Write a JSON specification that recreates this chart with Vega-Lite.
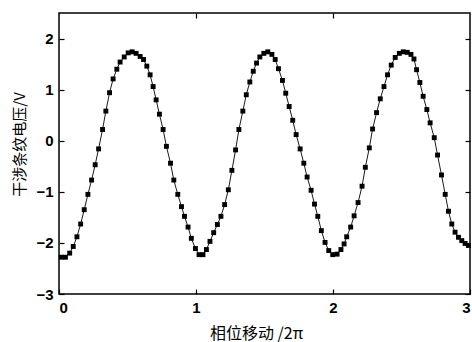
{
  "$schema": "https://vega.github.io/schema/vega-lite/v6.json",
  "width": 411,
  "height": 281,
  "autosize": {"type": "none"},
  "padding": {"left": 59, "top": 13, "right": 2, "bottom": 48},
  "background": "white",
  "config": {
    "view": {"stroke": "black", "strokeWidth": 1.5},
    "axis": {
      "domain": false,
      "grid": false,
      "tickColor": "black",
      "tickWidth": 1.2,
      "labelColor": "black",
      "labelFont": "Liberation Sans",
      "labelFontWeight": "bold",
      "labelFontSize": 15,
      "titleColor": "black",
      "titleFontWeight": "normal"
    }
  },
  "data": {
    "values": [
      {"x": 0.017, "y": -2.28}, {"x": 0.047, "y": -2.28}, {"x": 0.078, "y": -2.20}, {"x": 0.104, "y": -2.07},
      {"x": 0.131, "y": -1.88}, {"x": 0.158, "y": -1.63}, {"x": 0.184, "y": -1.35}, {"x": 0.211, "y": -1.05},
      {"x": 0.238, "y": -0.77}, {"x": 0.264, "y": -0.47}, {"x": 0.289, "y": -0.16}, {"x": 0.318, "y": 0.22},
      {"x": 0.342, "y": 0.58}, {"x": 0.369, "y": 0.94}, {"x": 0.395, "y": 1.21}, {"x": 0.422, "y": 1.40},
      {"x": 0.446, "y": 1.54}, {"x": 0.476, "y": 1.64}, {"x": 0.505, "y": 1.72}, {"x": 0.534, "y": 1.74},
      {"x": 0.563, "y": 1.71}, {"x": 0.592, "y": 1.65}, {"x": 0.617, "y": 1.59}, {"x": 0.641, "y": 1.46},
      {"x": 0.665, "y": 1.29}, {"x": 0.687, "y": 1.06}, {"x": 0.709, "y": 0.80}, {"x": 0.733, "y": 0.52},
      {"x": 0.760, "y": 0.22}, {"x": 0.784, "y": -0.11}, {"x": 0.814, "y": -0.44}, {"x": 0.838, "y": -0.77},
      {"x": 0.867, "y": -1.05}, {"x": 0.894, "y": -1.29}, {"x": 0.916, "y": -1.48}, {"x": 0.942, "y": -1.69},
      {"x": 0.966, "y": -1.91}, {"x": 0.996, "y": -2.11}, {"x": 1.022, "y": -2.23}, {"x": 1.051, "y": -2.23},
      {"x": 1.076, "y": -2.13}, {"x": 1.102, "y": -1.97}, {"x": 1.129, "y": -1.80}, {"x": 1.156, "y": -1.64},
      {"x": 1.182, "y": -1.48}, {"x": 1.209, "y": -1.25}, {"x": 1.236, "y": -0.96}, {"x": 1.262, "y": -0.58},
      {"x": 1.289, "y": -0.18}, {"x": 1.313, "y": 0.22}, {"x": 1.342, "y": 0.58}, {"x": 1.367, "y": 0.90},
      {"x": 1.393, "y": 1.15}, {"x": 1.418, "y": 1.36}, {"x": 1.442, "y": 1.52}, {"x": 1.466, "y": 1.64},
      {"x": 1.495, "y": 1.71}, {"x": 1.524, "y": 1.74}, {"x": 1.554, "y": 1.69}, {"x": 1.578, "y": 1.59},
      {"x": 1.602, "y": 1.41}, {"x": 1.631, "y": 1.18}, {"x": 1.655, "y": 0.93}, {"x": 1.680, "y": 0.67},
      {"x": 1.706, "y": 0.40}, {"x": 1.731, "y": 0.12}, {"x": 1.760, "y": -0.16}, {"x": 1.787, "y": -0.44},
      {"x": 1.811, "y": -0.71}, {"x": 1.840, "y": -0.97}, {"x": 1.865, "y": -1.24}, {"x": 1.889, "y": -1.48},
      {"x": 1.915, "y": -1.76}, {"x": 1.942, "y": -1.99}, {"x": 1.969, "y": -2.15}, {"x": 1.998, "y": -2.23},
      {"x": 2.030, "y": -2.22}, {"x": 2.058, "y": -2.13}, {"x": 2.081, "y": -2.02}, {"x": 2.100, "y": -1.88},
      {"x": 2.129, "y": -1.69}, {"x": 2.154, "y": -1.47}, {"x": 2.183, "y": -1.21}, {"x": 2.212, "y": -0.89},
      {"x": 2.236, "y": -0.52}, {"x": 2.265, "y": -0.14}, {"x": 2.289, "y": 0.23}, {"x": 2.318, "y": 0.55},
      {"x": 2.345, "y": 0.82}, {"x": 2.372, "y": 1.06}, {"x": 2.398, "y": 1.29}, {"x": 2.425, "y": 1.48},
      {"x": 2.454, "y": 1.63}, {"x": 2.484, "y": 1.71}, {"x": 2.513, "y": 1.74}, {"x": 2.542, "y": 1.73},
      {"x": 2.569, "y": 1.69}, {"x": 2.591, "y": 1.60}, {"x": 2.610, "y": 1.39}, {"x": 2.634, "y": 1.14},
      {"x": 2.658, "y": 0.87}, {"x": 2.685, "y": 0.61}, {"x": 2.709, "y": 0.35}, {"x": 2.739, "y": 0.06},
      {"x": 2.763, "y": -0.28}, {"x": 2.792, "y": -0.67}, {"x": 2.819, "y": -1.05}, {"x": 2.843, "y": -1.38},
      {"x": 2.867, "y": -1.63}, {"x": 2.891, "y": -1.79}, {"x": 2.916, "y": -1.89}, {"x": 2.940, "y": -1.955},
      {"x": 2.964, "y": -2.01}, {"x": 2.988, "y": -2.05}
    ]
  },
  "layer": [
    {
      "mark": {"type": "line", "color": "black", "strokeWidth": 0.9},
      "encoding": {
        "x": {
          "field": "x", "type": "quantitative",
          "scale": {"domain": [0, 3], "nice": false, "zero": false},
          "axis": {
            "orient": "bottom", "values": [0, 1, 2, 3], "format": "d",
            "tickSize": -5, "labelPadding": 11,
            "title": "相位移动 /2π", "titleFont": "Noto Sans CJK SC", "titleFontSize": 16,
            "titleX": 197, "titleY": 39, "titleAlign": "center", "titleBaseline": "middle"
          }
        },
        "y": {
          "field": "y", "type": "quantitative",
          "scale": {"domain": [-3, 2.5], "nice": false, "zero": false},
          "axis": {
            "orient": "left", "values": [-3, -2, -1, 0, 1, 2],
            "tickSize": -5, "labelPadding": 11,
            "title": "干涉条纹电压/V", "titleFont": "Noto Sans CJK SC", "titleFontSize": 15,
            "titleX": -40, "titleY": 131, "titleAlign": "center", "titleBaseline": "middle", "titleAngle": -90
          }
        }
      }
    },
    {
      "mark": {"type": "point", "shape": "square", "filled": true, "color": "black", "size": 24, "opacity": 1},
      "encoding": {
        "x": {
          "field": "x", "type": "quantitative",
          "axis": {"orient": "top", "values": [1, 2], "tickSize": -5, "labels": false, "title": null}
        },
        "y": {
          "field": "y", "type": "quantitative",
          "axis": {"orient": "right", "values": [-3, -2, -1, 0, 1, 2], "tickSize": -5, "labels": false, "title": null}
        }
      }
    }
  ],
  "resolve": {"axis": {"x": "independent", "y": "independent"}}
}
